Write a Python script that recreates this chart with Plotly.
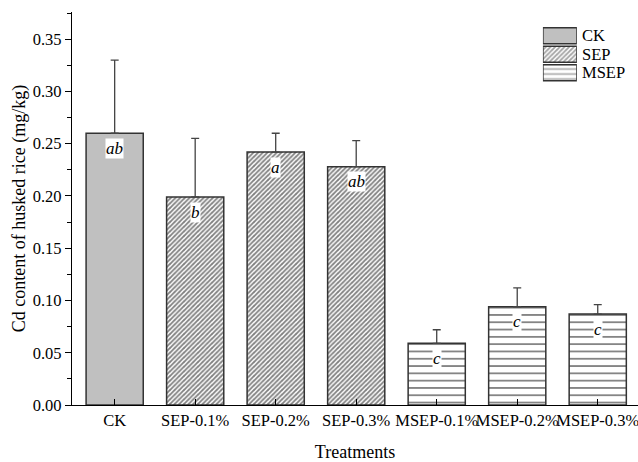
import plotly.graph_objects as go

# Cd content of husked rice per treatment (mg/kg), with standard deviations
treatments = ["CK", "SEP-0.1%", "SEP-0.2%", "SEP-0.3%", "MSEP-0.1%", "MSEP-0.2%", "MSEP-0.3%"]
groups = ["CK", "SEP", "SEP", "SEP", "MSEP", "MSEP", "MSEP"]
cd_values = [0.260, 0.199, 0.242, 0.228, 0.059, 0.094, 0.087]
cd_errors = [0.070, 0.056, 0.018, 0.025, 0.013, 0.018, 0.009]
sig_letters = ["ab", "b", "a", "ab", "c", "c", "c"]

legend_names = ["CK", "SEP", "MSEP"]

FONT = "Liberation Serif, Times New Roman, serif"
EDGE = "#333333"
HATCH = "#000000"

styles = {
    "CK": dict(color="#c0c0c0"),
    "SEP": dict(color="white",
                pattern=dict(shape="/", size=3.3, solidity=0.55, fgcolor=HATCH, bgcolor="white", fillmode="overlay")),
    "MSEP": dict(color="white",
                 pattern=dict(shape="-", size=7.3, solidity=0.24, fgcolor=HATCH, bgcolor="white", fillmode="overlay")),
}

fig = go.Figure()

for g in legend_names:
    xs = [t for t, gg in zip(treatments, groups) if gg == g]
    ys = [v for v, gg in zip(cd_values, groups) if gg == g]
    es = [e for e, gg in zip(cd_errors, groups) if gg == g]
    fig.add_trace(go.Bar(
        x=xs, y=ys, name=g, showlegend=False,
        marker=dict(line=dict(color=EDGE, width=1.5), **styles[g]),
        error_y=dict(type="data", array=es, arrayminus=[0] * len(es), symmetric=False,
                     color="#444444", thickness=1.3, width=4),
        width=0.71,
    ))

# Legend swatches drawn as a small inset of horizontal bars
fig.add_trace(go.Bar(
    x=[1, 1, 1], y=legend_names, orientation="h", showlegend=False,
    xaxis="x2", yaxis="y2", hoverinfo="skip",
    marker=dict(
        color=[styles[g]["color"] for g in legend_names],
        pattern=dict(shape=["", "/", "-"], size=[3.3, 3.3, 5.0], solidity=[0.55, 0.55, 0.3],
                     fgcolor=HATCH, bgcolor=[styles[g]["color"] for g in legend_names],
                     fillmode="overlay"),
        line=dict(color=EDGE, width=1.5),
    ),
    width=0.86,
))

annotations = []
for t, v, s in zip(treatments, cd_values, sig_letters):
    annotations.append(dict(
        x=t, y=v, xref="x", yref="y", text=s, showarrow=False,
        yshift=-15, yanchor="middle",
        font=dict(family=FONT, size=17, color="black", style="italic"),
        bgcolor="white", borderpad=0,
    ))
for g in legend_names:
    annotations.append(dict(
        x=1, y=g, xref="x2", yref="y2", text=g, showarrow=False,
        xanchor="left", xshift=3, yanchor="middle",
        font=dict(family=FONT, size=16.5, color="black"),
    ))

fig.update_layout(
    width=638, height=462,
    margin=dict(l=72, r=0, t=12, b=57),
    paper_bgcolor="white", plot_bgcolor="white",
    font=dict(family=FONT, size=16.5, color="black"),
    bargap=0.29,
    annotations=annotations,
    xaxis=dict(
        range=[-0.53, 6.5], showline=True, linecolor="black", linewidth=1.3,
        ticks="inside", ticklen=6, tickcolor="black", tickwidth=1.3,
        showgrid=False, zeroline=False, tickangle=0, automargin=False,
        title=dict(text="Treatments", standoff=19, font=dict(size=18)),
        tickfont=dict(size=16.5),
    ),
    yaxis=dict(
        range=[0, 0.376], dtick=0.05, tickformat=".2f",
        showline=True, linecolor="black", linewidth=1.3,
        ticks="outside", ticklen=6, tickcolor="black", tickwidth=1.3,
        minor=dict(dtick=0.025, ticks="outside", ticklen=3.5, tickcolor="black", tickwidth=1.3),
        showgrid=False, zeroline=False, automargin=False,
        title=dict(text="Cd content of husked rice (mg/kg)", standoff=2, font=dict(size=18)),
        tickfont=dict(size=16.5),
    ),
    xaxis2=dict(domain=[0.832, 0.892], range=[0, 1], visible=False, anchor="y2"),
    yaxis2=dict(domain=[0.822, 0.963], range=[2.5, -0.5], visible=False, anchor="x2",
                categoryorder="array", categoryarray=legend_names),
)

fig.write_html("out.html")
